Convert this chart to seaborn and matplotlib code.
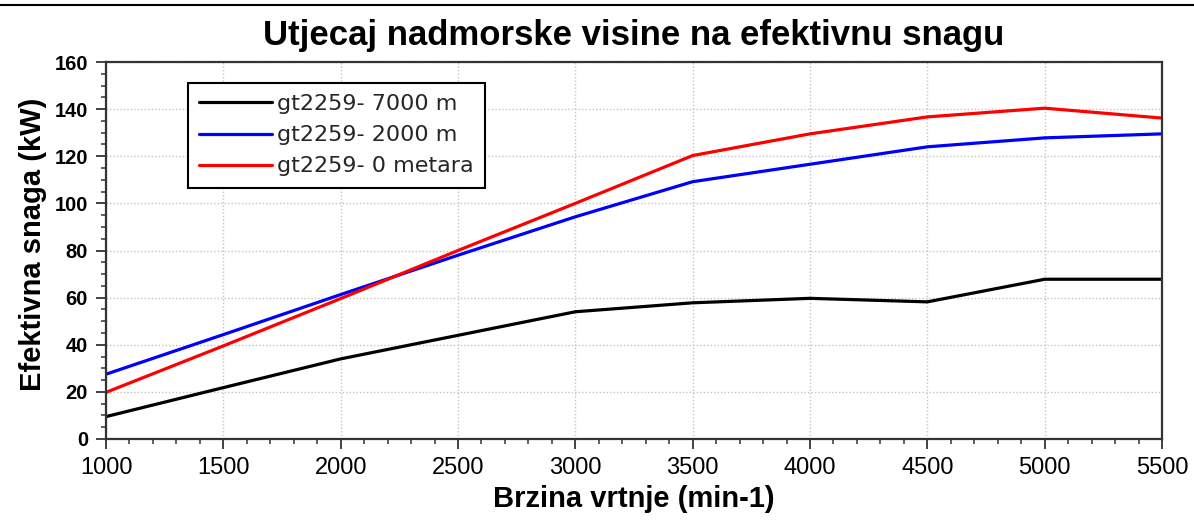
import numpy as np
import pandas as pd
import matplotlib
matplotlib.use("Agg")
import matplotlib.pyplot as plt
import seaborn as sns
from matplotlib.ticker import MultipleLocator
from matplotlib.lines import Line2D

# Brzina vrtnje motora (min-1)
rpm = [1000, 1500, 2000, 2500, 3000, 3500, 4000, 4500, 5000, 5500]

# Efektivna snaga (kW) za tri nadmorske visine
snaga_7000 = [9.5, 21.8, 34.0, 44.0, 54.0, 57.8, 59.7, 58.2, 67.8, 67.8]
snaga_2000 = [27.5, 44.3, 61.3, 78.0, 94.3, 109.2, 116.6, 124.0, 127.8, 129.5]
snaga_0 = [19.8, 39.5, 59.6, 80.0, 100.0, 120.3, 129.5, 136.7, 140.4, 136.2]

serije = ["gt2259- 7000 m", "gt2259- 2000 m", "gt2259- 0 metara"]
boje = ["#000000", "#0000ff", "#ff0000"]

naslov = "Utjecaj nadmorske visine na efektivnu snagu"
oznaka_x = "Brzina vrtnje (min-1)"
oznaka_y = "Efektivna snaga (kW)"

df = pd.DataFrame({
    "rpm": rpm * 3,
    "snaga": snaga_7000 + snaga_2000 + snaga_0,
    "serija": np.repeat(serije, len(rpm)),
})

sns.set_theme(style="white")
plt.rcParams["font.family"] = ["Liberation Sans", "DejaVu Sans"]

fig = plt.figure(figsize=(11.94, 5.2), dpi=100)
ax = fig.add_axes([106 / 1194, 81 / 520, 1056 / 1194, 377 / 520])

sns.lineplot(
    data=df, x="rpm", y="snaga", hue="serija", hue_order=serije,
    palette=dict(zip(serije, boje)), linewidth=2.3, ax=ax,
)

ax.set_xlim(1000, 5500)
ax.set_ylim(0, 160)
ax.xaxis.set_major_locator(MultipleLocator(500))
ax.xaxis.set_minor_locator(MultipleLocator(100))
ax.yaxis.set_major_locator(MultipleLocator(20))
ax.yaxis.set_minor_locator(MultipleLocator(5))

ax.set_axisbelow(True)
ax.grid(True, which="major", color="#c4c4c4", linestyle=(0, (1, 1.5)), linewidth=1.0)

ax.tick_params(which="major", direction="out", length=7, width=1.3,
               color="#333333", bottom=True, left=True)
ax.tick_params(which="minor", direction="out", length=3.5, width=1.1,
               color="#333333", bottom=True, left=True)
ax.tick_params(axis="x", which="major", labelsize=17, pad=6, labelcolor="black")
ax.tick_params(axis="y", which="major", labelsize=14.5, pad=6, labelcolor="black")
for lbl in ax.get_yticklabels():
    lbl.set_fontweight("bold")

for s in ax.spines.values():
    s.set_color("#333333")
    s.set_linewidth(1.6)

ax.set_xlabel(oznaka_x, fontsize=21, fontweight="bold", color="black")
ax.set_ylabel(oznaka_y, fontsize=21, fontweight="bold", color="black")
ax.xaxis.set_label_coords(0.5, -0.122)
ax.yaxis.set_label_coords(-0.056, 0.516)

leg = ax.legend(
    loc="upper left", bbox_to_anchor=(0.0777, 0.944), borderaxespad=0,
    prop={"family": "DejaVu Sans", "size": 16}, frameon=True, fancybox=False,
    edgecolor="black", framealpha=1, handlelength=3.3, handletextpad=0.22,
    labelspacing=0.5, borderpad=0.5,
)
leg.get_frame().set_linewidth(1.5)
for h in leg.get_lines():
    h.set_linewidth(2.3)

fig.text(634 / 1194, 1 - 45 / 520, naslov, ha="center", va="baseline",
         fontsize=25, fontweight="bold", color="black")

# Rub stranice iznad grafikona
fig.add_artist(Line2D([0, 1], [1 - 5 / 520, 1 - 5 / 520], color="black", linewidth=1.5))

fig.savefig("out.png", dpi=100)
